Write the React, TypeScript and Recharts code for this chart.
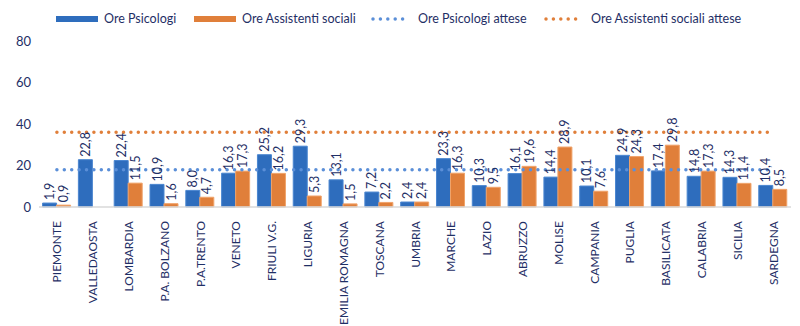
import React from 'react';
import {
  ComposedChart,
  Bar,
  Line,
  XAxis,
  YAxis,
  LabelList,
} from 'recharts';

const regioni = [
  'PIEMONTE', 'VALLEDAOSTA', 'LOMBARDIA', 'P.A. BOLZANO', 'P.A.TRENTO', 'VENETO',
  'FRIULI V.G.', 'LIGURIA', 'EMILIA ROMAGNA', 'TOSCANA', 'UMBRIA', 'MARCHE', 'LAZIO',
  'ABRUZZO', 'MOLISE', 'CAMPANIA', 'PUGLIA', 'BASILICATA', 'CALABRIA', 'SICILIA', 'SARDEGNA',
];
const orePsicologi = [
  1.9, 22.8, 22.4, 10.9, 8.0, 16.3, 25.2, 29.3, 13.1, 7.2, 2.4,
  23.3, 10.3, 16.1, 14.4, 10.1, 24.9, 17.4, 14.8, 14.3, 10.4,
];
const oreAssistenti = [
  0.9, 0.0, 11.5, 1.6, 4.7, 17.3, 16.2, 5.3, 1.5, 2.2, 2.4,
  16.3, 9.5, 19.6, 28.9, 7.6, 24.3, 29.8, 17.3, 11.4, 8.5,
];
const psicologiAttese = 18;
const assistentiAttese = 36;
const yTicks = [0, 20, 40, 60, 80];

const data = regioni.map((r, i) => ({
  regione: r,
  psi: orePsicologi[i],
  ass: oreAssistenti[i],
  psiAtt: psicologiAttese,
  assAtt: assistentiAttese,
}));

const BLUE = '#2e6dbd';
const ORANGE = '#e07f3a';
const DOT_BLUE = '#5b8fd8';
const NAVY = '#1f2f66';
const FONT = 'Lato, "Open Sans", sans-serif';

const fmt = (v: number) => v.toFixed(1).replace('.', ',');

const BarLabel = (props: any) => {
  const { x, y, width, value } = props;
  const cx = x + width / 2;
  const ty = y - 3;
  return (
    <text
      x={cx}
      y={ty}
      transform={`rotate(-90, ${cx}, ${ty})`}
      textAnchor="start"
      dominantBaseline="central"
      fontSize={12.5}
      fontFamily={FONT}
      fill={NAVY}
    >
      {fmt(value)}
    </text>
  );
};

const XTick = (props: any) => {
  const { x, y, payload } = props;
  const ty = y + 6;
  return (
    <text
      x={x}
      y={ty}
      transform={`rotate(-90, ${x}, ${ty})`}
      textAnchor="end"
      dominantBaseline="central"
      fontSize={12}
      fontFamily={FONT}
      fill={NAVY}
    >
      {payload.value}
    </text>
  );
};

// legend: swatch x
const legendItems = [
  { label: 'Ore Psicologi', kind: 'bar', color: BLUE, x: 56 },
  { label: 'Ore Assistenti sociali', kind: 'bar', color: ORANGE, x: 194 },
  { label: 'Ore Psicologi attese', kind: 'dots', color: DOT_BLUE, x: 370 },
  { label: 'Ore Assistenti sociali attese', kind: 'dots', color: ORANGE, x: 543 },
];

const ChartLegend = () => (
  <div style={{ position: 'absolute', left: 0, top: 11, width: 800, height: 18, fontFamily: FONT, fontSize: 12.5, color: NAVY }}>
    {legendItems.map((it) => (
      <div key={it.label} style={{ position: 'absolute', left: it.x, top: 0, display: 'flex', alignItems: 'center', whiteSpace: 'nowrap' }}>
        <svg width={42} height={8} style={{ marginRight: 6 }}>
          {it.kind === 'bar' ? (
            <rect x={0.5} y={1.5} width={41} height={5} fill={it.color} stroke={it.color} />
          ) : (
            <line
              x1={3}
              y1={4}
              x2={40}
              y2={4}
              stroke={it.color}
              strokeWidth={3.5}
              strokeDasharray="0 7.4"
              strokeLinecap="round"
            />
          )}
        </svg>
        <span>{it.label}</span>
      </div>
    ))}
  </div>
);

export default function App() {
  return (
    <div style={{ position: 'absolute', left: 0, top: 0, width: 800, height: 326, background: '#fff' }}>
      <ComposedChart
        width={800}
        height={326}
        data={data}
        margin={{ top: 41, right: 9, left: 0, bottom: 4 }}
        barCategoryGap="10%"
        barGap={0}
      >
        <XAxis
          dataKey="regione"
          interval={0}
          height={115}
          tick={<XTick />}
          tickLine={false}
          axisLine={{ stroke: '#d9d9d9', strokeWidth: 1.5 }}
        />
        <YAxis
          domain={[0, 80]}
          ticks={yTicks}
          width={39}
          axisLine={false}
          tickLine={false}
          tick={{ fontSize: 13, fill: NAVY, fontFamily: FONT }}
        />
        <Bar dataKey="psi" fill={BLUE} stroke="#4a86d0" strokeWidth={1} isAnimationActive={false}>
          <LabelList dataKey="psi" content={<BarLabel />} />
        </Bar>
        <Bar dataKey="ass" fill={ORANGE} stroke="#f0a36a" strokeWidth={1} isAnimationActive={false}>
          <LabelList dataKey="ass" content={<BarLabel />} />
        </Bar>
        <Line
          dataKey="psiAtt"
          stroke={DOT_BLUE}
          strokeWidth={3.5}
          strokeDasharray="0 7.4"
          strokeLinecap="round"
          dot={false}
          isAnimationActive={false}
        />
        <Line
          dataKey="assAtt"
          stroke={ORANGE}
          strokeWidth={3.5}
          strokeDasharray="0 7.4"
          strokeLinecap="round"
          dot={false}
          isAnimationActive={false}
        />
      </ComposedChart>
      <ChartLegend />
    </div>
  );
}
